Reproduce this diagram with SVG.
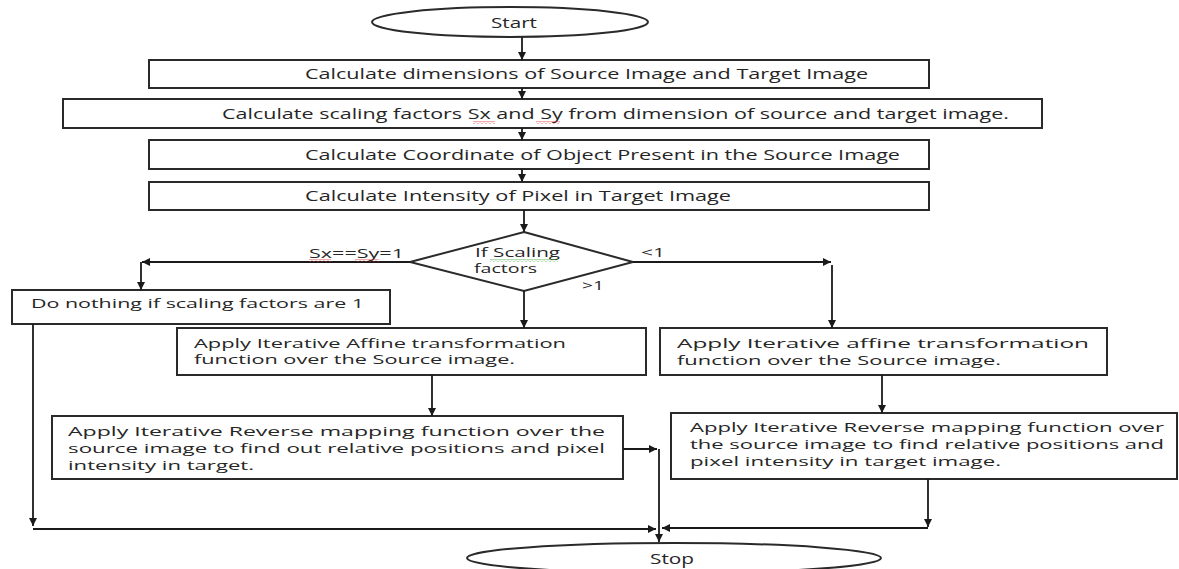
<svg xmlns="http://www.w3.org/2000/svg" width="1179" height="569" viewBox="0 0 1179 569">
<defs>
<marker id="ah" markerUnits="userSpaceOnUse" markerWidth="9" markerHeight="9" refX="8" refY="4" orient="auto">
<path d="M0,0 L8,4 L0,8 z" fill="#1a1a1a"/>
</marker>
<pattern id="sqr" width="4" height="3" patternUnits="userSpaceOnUse">
<path d="M0,2.5 L2,0.5 L4,2.5" stroke="#e03030" fill="none" stroke-width="0.8"/>
</pattern>
<pattern id="sqg" width="4" height="3" patternUnits="userSpaceOnUse">
<path d="M0,2.5 L2,0.5 L4,2.5" stroke="#3aa83a" fill="none" stroke-width="0.8"/>
</pattern>
</defs>
<style>
.box{fill:#fff;stroke:#2a2a2a;stroke-width:2}
.t{font-family:"Open Sans","Noto Sans","Liberation Sans",sans-serif;font-size:15px;fill:#262626}
.m{font-size:13.5px}
.s{font-size:13px}
.d{font-size:12px}
.c{stroke:#1a1a1a;stroke-width:1.8;fill:none;marker-end:url(#ah)}
</style>
<rect width="1179" height="569" fill="#fff"/>

<g id="start">
<ellipse class="box" cx="510" cy="22" rx="138" ry="15"/>
<text class="t" x="514" y="28" text-anchor="middle" textLength="46" lengthAdjust="spacingAndGlyphs">Start</text>
</g>

<g id="dims">
<rect class="box" x="149" y="60" width="780" height="28"/>
<text class="t" x="305" y="79" textLength="563" lengthAdjust="spacingAndGlyphs">Calculate dimensions of Source Image and Target Image</text>
</g>

<g id="scaling">
<rect class="box" x="63" y="99" width="979" height="29"/>
<text class="t" x="222" y="119" textLength="787" lengthAdjust="spacingAndGlyphs">Calculate scaling factors Sx and Sy from dimension of source and target image.</text>
<rect x="473" y="121" width="22" height="3" fill="url(#sqr)"/>
<rect x="536" y="121" width="24" height="3" fill="url(#sqr)"/>
</g>

<g id="coord">
<rect class="box" x="149" y="140" width="780" height="29"/>
<text class="t" x="305" y="160" textLength="595" lengthAdjust="spacingAndGlyphs">Calculate Coordinate of Object Present in the Source Image</text>
</g>

<g id="intensity">
<rect class="box" x="149" y="182" width="780" height="28"/>
<text class="t" x="305" y="201" textLength="426" lengthAdjust="spacingAndGlyphs">Calculate Intensity of Pixel in Target Image</text>
</g>

<g id="decision">
<polygon class="box" points="524,232 633,262 524,291 410,262"/>
<text class="t d" x="475" y="257" textLength="85" lengthAdjust="spacingAndGlyphs">If Scaling</text>
<text class="t d" x="474" y="273" textLength="63" lengthAdjust="spacingAndGlyphs">factors</text>
<rect x="490" y="259" width="68" height="3" fill="url(#sqg)"/>
</g>

<g id="donothing">
<rect class="box" x="12" y="290" width="378" height="34"/>
<text class="t m" x="31" y="308" textLength="333" lengthAdjust="spacingAndGlyphs">Do nothing  if scaling factors are 1</text>
</g>

<g id="affine-left">
<rect class="box" x="177" y="328" width="469" height="47"/>
<text class="t m" x="194" y="348" textLength="372" lengthAdjust="spacingAndGlyphs">Apply Iterative Affine transformation</text>
<text class="t m" x="194" y="364" textLength="321" lengthAdjust="spacingAndGlyphs">function over the Source image.</text>
</g>

<g id="affine-right">
<rect class="box" x="660" y="328" width="447" height="47"/>
<text class="t m" x="677" y="348" textLength="412" lengthAdjust="spacingAndGlyphs">Apply   Iterative   affine   transformation</text>
<text class="t m" x="677" y="365" textLength="324" lengthAdjust="spacingAndGlyphs">function over the Source image.</text>
</g>

<g id="reverse-left">
<rect class="box" x="52" y="416" width="571" height="63"/>
<text class="t m" x="68" y="436" textLength="537" lengthAdjust="spacingAndGlyphs">Apply Iterative Reverse mapping function over the</text>
<text class="t m" x="68" y="453" textLength="537" lengthAdjust="spacingAndGlyphs">source image to find out relative positions and pixel</text>
<text class="t m" x="68" y="470" textLength="186" lengthAdjust="spacingAndGlyphs">intensity in target.</text>
</g>

<g id="reverse-right">
<rect class="box" x="671" y="413" width="506" height="66"/>
<text class="t m" x="690" y="432" textLength="474" lengthAdjust="spacingAndGlyphs">Apply Iterative Reverse mapping function over</text>
<text class="t m" x="690" y="449" textLength="474" lengthAdjust="spacingAndGlyphs">the source image to find relative positions and</text>
<text class="t m" x="690" y="466" textLength="311" lengthAdjust="spacingAndGlyphs">pixel intensity in target image.</text>
</g>

<g id="stop">
<ellipse class="box" cx="674" cy="558" rx="207" ry="15"/>
<text class="t" x="672" y="564" text-anchor="middle" textLength="44" lengthAdjust="spacingAndGlyphs">Stop</text>
</g>

<g id="connectors">
<path class="c" d="M522,37 V60"/>
<path class="c" d="M522,88 V99"/>
<path class="c" d="M522,128 V140"/>
<path class="c" d="M522,169 V182"/>
<path class="c" d="M524,210 V232"/>
<path class="c" d="M410,262 H142"/>
<path class="c" d="M141,262 V290"/>
<path class="c" d="M524,291 V328"/>
<path class="c" d="M633,262 H831"/>
<path class="c" d="M832,265 V328"/>
<path class="c" d="M432,375 V416"/>
<path class="c" d="M882,375 V413"/>
<path class="c" d="M623,449 H657"/>
<path class="c" d="M659,449 V542"/>
<path class="c" d="M33,324 V526"/>
<path class="c" d="M33,529 H656"/>
<path class="c" d="M928,479 V527"/>
<path class="c" d="M928,528 H662"/>
</g>

<g id="labels">
<text class="t s" x="309" y="258" textLength="95" lengthAdjust="spacingAndGlyphs">Sx==Sy=1</text>
<rect x="309" y="259" width="22" height="3" fill="url(#sqr)"/>
<rect x="355" y="259" width="24" height="3" fill="url(#sqr)"/>
<text class="t s" x="641" y="257" textLength="24" lengthAdjust="spacingAndGlyphs">&lt;1</text>
<text class="t s" x="582" y="290" textLength="22" lengthAdjust="spacingAndGlyphs">&gt;1</text>
</g>
</svg>
